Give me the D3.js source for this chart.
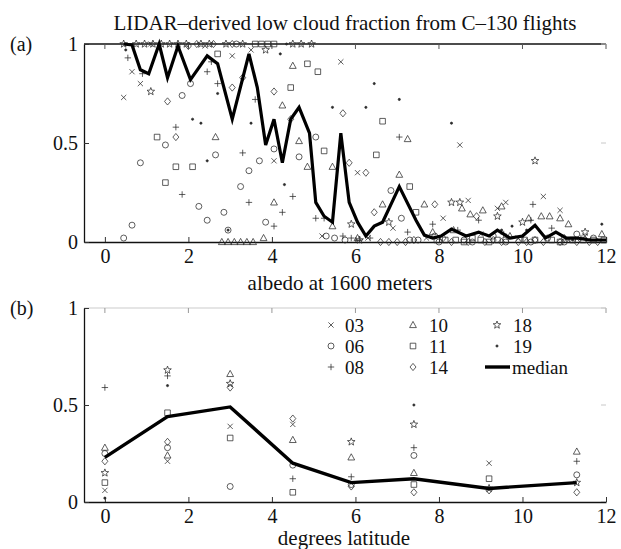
<!DOCTYPE html>
<html><head><meta charset="utf-8">
<script src="https://cdn.jsdelivr.net/npm/d3@7"></script>
<style>
body{margin:0;background:#fff;}
svg{display:block;}
svg text{font-family:"Liberation Serif","Times New Roman",serif;}
</style></head>
<body><svg id="c" width="621" height="549"></svg>
<script>
// ---------- DATA ----------
const xTicks = [0, 2, 4, 6, 8, 10, 12];
const yTicks = [0, 0.5, 1];
const flights = ["03", "06", "08", "10", "11", "14", "18", "19"];
const markers = ["x", "o", "+", "tri", "sq", "dia", "star", "dot"];

// Panel (a): [albedo, fraction] per flight
const a03 = [[0.45,0.73],[0.65,0.86],[0.85,0.80],[1.1,1.0],[2.4,0.99],[3.05,0.94],[3.5,0.97],[4.05,0.41],[5.65,0.91],[6.05,0.35],[6.9,0.07],[7.7,0.02],[8.5,0.49],[8.7,0.21],[9.4,0.17],[9.6,0.2],[10.5,0.23],[10.9,0.16],[11.5,0.03],[5.2,0.03],[6.3,0.02],[8.1,0.12],[9.0,0.04],[9.9,0.02],[11.1,0.01]];
const a06 = [[0.45,0.02],[0.65,0.085],[0.85,0.40],[1.45,0.49],[1.85,0.74],[2.05,0.80],[2.25,0.18],[2.45,0.11],[2.65,0.44],[2.85,0.15],[2.95,0.06],[3.15,1.0],[3.25,0.28],[3.45,0.36],[3.7,0.41],[3.85,0.10],[4.05,0.47],[4.65,0.43],[5.05,0.53],[5.3,0.03],[5.5,0.02],[5.75,0.01],[6.85,0.26],[7.1,0.12],[7.3,0.01],[7.5,0.01],[7.9,0.03],[8.0,0.0],[8.6,0.01],[8.8,0.0],[9.3,0.03],[9.6,0.0],[10.2,0.0],[10.6,0.02],[11.0,0.0],[11.3,0.04],[11.7,0.02]];
const a08 = [[0.55,0.93],[0.9,0.85],[1.7,0.58],[1.85,0.24],[2.45,0.86],[2.7,0.80],[2.55,0.91],[3.3,0.45],[3.45,0.20],[3.6,0.72],[4.05,0.08],[4.25,0.15],[4.5,0.23],[5.05,0.12],[5.25,0.12],[5.7,0.03],[5.9,0.02],[6.1,0.01],[6.35,0.02],[7.05,0.53],[7.25,0.05],[7.85,0.09],[8.45,0.06],[8.95,0.11],[9.55,0.04],[10.2,0.11],[10.25,0.19],[10.7,0.07],[11.4,0.02]];
const a10 = [[2.65,0.53],[2.8,0.0],[2.95,0.0],[3.1,0.0],[3.25,0.0],[3.4,0.0],[3.55,0.0],[3.8,0.02],[4.25,0.69],[4.05,0.20],[4.5,0.89],[4.65,0.51],[4.85,0.38],[5.45,0.38],[5.45,0.08],[6.05,0.02],[6.65,0.19],[7.05,0.34],[7.25,0.52],[7.65,0.19],[7.85,0.05],[8.35,0.06],[8.55,0.17],[8.75,0.14],[9.05,0.16],[9.5,0.18],[9.7,0.03],[10.15,0.12],[10.45,0.13],[10.65,0.13],[10.9,0.12],[11.1,0.09],[11.9,0.04]];
const a11 = [[1.25,0.53],[1.45,0.30],[1.7,0.38],[2.1,0.38],[2.7,0.95],[3.6,1.0],[3.75,1.0],[3.9,1.0],[4.05,1.0],[4.45,0.78],[4.85,0.90],[5.1,0.86],[5.25,0.46],[6.5,0.44],[6.65,0.61],[7.3,0.28],[7.45,0.15],[7.95,0.01],[8.15,0.01],[8.4,0.01],[8.6,0.0],[8.8,0.02],[9.0,0.01],[9.2,0.0],[9.4,0.01],[9.6,0.01],[10.05,0.01],[10.3,0.01],[10.7,0.01],[10.9,0.0],[11.2,0.01],[11.45,0.01],[11.7,0.01],[11.95,0.01]];
const a14 = [[1.5,0.71],[1.7,0.53],[2.0,0.99],[2.2,1.0],[2.6,1.0],[3.05,0.78],[3.3,0.83],[3.05,1.0],[4.05,0.76],[4.45,0.62],[5.7,0.65],[5.85,0.40],[6.25,0.35],[6.45,0.15],[6.6,0.0],[6.8,0.0],[7.0,0.0],[7.2,0.0],[7.4,0.01],[7.9,0.19],[8.1,0.02],[8.3,0.0],[8.7,0.0],[8.9,0.13],[9.1,0.0],[9.3,0.01],[9.5,0.0],[9.9,0.0],[10.1,0.0],[10.3,0.01],[10.5,0.0],[10.9,0.0],[11.0,0.02],[11.3,0.0],[11.6,0.0],[11.8,0.0]];
const a18 = [[0.45,1.0],[0.75,1.0],[0.95,1.0],[1.1,0.76],[1.15,1.0],[1.35,1.0],[1.55,1.0],[1.75,1.0],[1.95,1.0],[2.3,1.0],[2.5,1.0],[2.9,1.0],[3.3,1.0],[3.85,0.97],[4.5,1.0],[4.7,1.0],[4.95,1.0],[5.9,0.09],[6.1,0.01],[6.8,0.1],[8.3,0.2],[8.5,0.2],[9.4,0.13],[10.0,0.1],[10.3,0.41],[11.5,0.05]];
const a19 = [[0.5,0.97],[2.1,0.62],[2.3,0.60],[2.45,0.41],[2.7,0.75],[2.95,0.06],[3.5,0.60],[4.2,0.95],[4.3,0.29],[4.35,1.0],[5.45,0.68],[6.25,0.68],[6.45,0.80],[7.05,0.72],[8.3,0.60],[9.5,0.06],[9.75,0.08],[10.1,0.06],[11.2,0.01],[11.9,0.09]];
const medianA = [[0.45,1.0],[0.65,0.995],[0.85,0.87],[1.05,0.85],[1.3,1.0],[1.5,0.83],[1.75,0.99],[2.05,0.82],[2.45,0.94],[2.7,0.90],[3.05,0.62],[3.45,0.95],[3.65,0.78],[3.85,0.49],[4.05,0.62],[4.25,0.40],[4.45,0.62],[4.65,0.68],[4.9,0.55],[5.05,0.20],[5.25,0.13],[5.45,0.10],[5.65,0.55],[5.85,0.20],[6.05,0.10],[6.25,0.03],[6.45,0.08],[6.65,0.10],[7.05,0.28],[7.45,0.11],[7.65,0.035],[7.85,0.02],[8.05,0.03],[8.3,0.065],[8.65,0.03],[8.95,0.05],[9.2,0.03],[9.4,0.06],[9.7,0.02],[10.0,0.03],[10.3,0.085],[10.55,0.02],[10.8,0.05],[11.05,0.02],[11.3,0.02],[11.6,0.01],[12.0,0.01]];

// Panel (b): values per flight at each latitude
const latitudes = [0, 1.5, 3, 4.5, 5.9, 7.4, 9.2, 11.3];
const b03 = [0.06, 0.21, 0.39, 0.40, null, null, 0.20, null];
const b06 = [0.25, 0.28, 0.08, 0.19, 0.09, 0.24, null, 0.14];
const b08 = [0.59, 0.65, null, 0.12, 0.13, 0.28, null, 0.21];
const b10 = [0.28, 0.24, 0.66, 0.32, 0.23, 0.15, null, 0.26];
const b11 = [0.10, 0.46, 0.33, 0.05, null, 0.09, 0.12, null];
const b14 = [0.21, 0.31, 0.59, 0.43, 0.08, 0.05, 0.06, 0.05];
const b18 = [0.15, 0.68, 0.61, null, 0.31, 0.40, 0.07, 0.10];
const b19 = [0.02, 0.60, null, null, null, 0.50, null, null];
const medianB = [0.23, 0.44, 0.49, 0.20, 0.10, 0.12, 0.07, 0.10];

// ---------- DRAW ----------
const FONT = "Liberation Serif";
const svg = d3.select("#c");
const ink = "#2a2a2a";
function markerPath(t) {
  const p = d3.path();
  if (t === "x") { const r = 2.6; p.moveTo(-r,-r); p.lineTo(r,r); p.moveTo(-r,r); p.lineTo(r,-r); }
  else if (t === "o") { p.arc(0,0,3,0,2*Math.PI); }
  else if (t === "+") { const r = 3.2; p.moveTo(-r,0); p.lineTo(r,0); p.moveTo(0,-r); p.lineTo(0,r); }
  else if (t === "tri") { p.moveTo(0,-3.6); p.lineTo(3.4,2.6); p.lineTo(-3.4,2.6); p.closePath(); }
  else if (t === "sq") { p.rect(-2.8,-2.8,5.6,5.6); }
  else if (t === "dia") { p.moveTo(0,-3.6); p.lineTo(3,0); p.lineTo(0,3.6); p.lineTo(-3,0); p.closePath(); }
  else if (t === "star") {
    for (let i = 0; i < 10; i++) {
      const r = i % 2 === 0 ? 4 : 1.7, a = -Math.PI/2 + i*Math.PI/5;
      const x = r*Math.cos(a), y = r*Math.sin(a);
      if (i === 0) p.moveTo(x,y); else p.lineTo(x,y);
    }
    p.closePath();
  }
  else if (t === "dot") { p.arc(0,0,1.1,0,2*Math.PI); }
  return p.toString();
}
function drawMarker(g, t, x, y) {
  g.append("path").attr("d", markerPath(t)).attr("transform", `translate(${x},${y})`)
    .attr("fill", t === "dot" ? ink : "none").attr("stroke", ink).attr("stroke-width", 0.75);
}
function label(g, x, y, txt, size, anchor) {
  return g.append("text").attr("x", x).attr("y", y).attr("text-anchor", anchor || "start")
    .attr("font-family", FONT).attr("font-size", size).attr("fill", "#111").text(txt);
}

function panel(y0, y1, topColor, topTick) {
  const x = d3.scaleLinear().domain([-0.5, 12]).range([84, 606]);
  const y = d3.scaleLinear().domain([0, 1]).range([y0, y1]);
  const g = svg.append("g");
  g.append("line").attr("x1", 84).attr("x2", 606).attr("y1", y1).attr("y2", y1).attr("stroke", topColor).attr("stroke-width", 1.3);
  xTicks.forEach(t => g.append("line").attr("x1", x(t)).attr("x2", x(t)).attr("y1", y1).attr("y2", y1 + 5).attr("stroke", topTick));
  yTicks.forEach(t => g.append("line").attr("x1", 606).attr("x2", 601).attr("y1", y(t)).attr("y2", y(t)).attr("stroke", "#c8c8c8"));
  const xa = g.append("g").attr("transform", `translate(0,${y0})`)
    .call(d3.axisBottom(x).tickValues(xTicks).tickSizeInner(-5).tickSizeOuter(0).tickPadding(6).tickFormat(d3.format("d")));
  const ya = g.append("g").attr("transform", `translate(84,0)`)
    .call(d3.axisLeft(y).tickValues(yTicks).tickSizeInner(-5).tickSizeOuter(0).tickPadding(6).tickFormat(d => d === 0.5 ? "0.5" : d3.format("d")(d)));
  [xa, ya].forEach(a => {
    a.attr("font-family", FONT);
    a.selectAll("text").attr("font-family", FONT).attr("font-size", 20).attr("fill", "#111");
    a.select(".domain").attr("stroke", "#111").attr("stroke-width", 1.3);
    a.selectAll(".tick line").attr("stroke", "#333");
  });
  xa.selectAll("text").attr("dy", "0.74em");
  ya.selectAll("text").attr("dy", "0.33em");
  return {x, y, g};
}

// Title
label(svg, 345, 30, "LIDAR\u2013derived low cloud fraction from C\u2013130 flights", 21, "middle");

// Panel (a)
const A = panel(242, 44, "#111", "#555");
const seriesA = [a03, a06, a08, a10, a11, a14, a18, a19];
seriesA.forEach((s, i) => s.forEach(d => drawMarker(A.g, markers[i], A.x(d[0]), A.y(d[1]))));
A.g.append("path").datum(medianA)
  .attr("d", d3.line().x(d => A.x(d[0])).y(d => A.y(d[1])))
  .attr("fill", "none").attr("stroke", "#000").attr("stroke-width", 3.2).attr("stroke-linejoin", "miter");
label(svg, 10, 51, "(a)", 20);
label(svg, 340, 290, "albedo at 1600 meters", 21, "middle");

// Panel (b)
const B = panel(502, 308, "#dcdcdc", "#999");
const seriesB = [b03, b06, b08, b10, b11, b14, b18, b19];
seriesB.forEach((s, i) => s.forEach((v, j) => { if (v !== null) drawMarker(B.g, markers[i], B.x(latitudes[j]), B.y(v)); }));
B.g.append("path").datum(medianB.map((v, j) => [latitudes[j], v]))
  .attr("d", d3.line().x(d => B.x(d[0])).y(d => B.y(d[1])))
  .attr("fill", "none").attr("stroke", "#000").attr("stroke-width", 3.4);
label(svg, 10, 315, "(b)", 20);
label(svg, 344, 545, "degrees latitude", 21, "middle");

// Legend
const leg = svg.append("g");
const legCols = [[331, 345], [413, 429], [497, 513]];
const legRows = [325, 346, 367];
flights.forEach((f, i) => {
  const c = Math.floor(i / 3), r = i % 3;
  drawMarker(leg, markers[i], legCols[c][0], legRows[r]);
  label(leg, legCols[c][1], legRows[r], f, 19).attr("dy", "0.35em");
});
leg.append("line").attr("x1", 485).attr("x2", 510).attr("y1", legRows[2]).attr("y2", legRows[2]).attr("stroke", "#000").attr("stroke-width", 3.4);
label(leg, 512, legRows[2], "median", 19).attr("dy", "0.35em");
</script></body></html>
